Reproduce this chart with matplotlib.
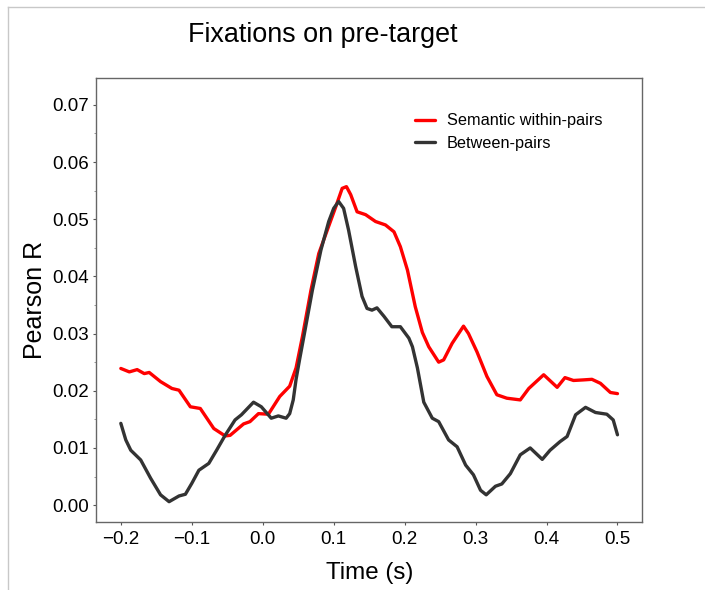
import matplotlib
matplotlib.use('Agg')
import matplotlib.pyplot as plt
from matplotlib.ticker import MultipleLocator
from matplotlib.lines import Line2D

plt.rcParams['font.family'] = ['Liberation Sans', 'DejaVu Sans']

# semantic within-pairs (red)
t_sem = [-0.200, -0.188, -0.177, -0.167, -0.160, -0.144, -0.128, -0.118, -0.102, -0.088,
         -0.069, -0.053, -0.046, -0.027, -0.018, -0.006, 0.008, 0.024, 0.038, 0.047,
         0.056, 0.068, 0.079, 0.091, 0.103, 0.112, 0.118, 0.124, 0.133, 0.145,
         0.159, 0.173, 0.185, 0.194, 0.204, 0.215, 0.225, 0.234, 0.248, 0.255,
         0.267, 0.283, 0.290, 0.302, 0.316, 0.330, 0.344, 0.363, 0.375, 0.396,
         0.415, 0.426, 0.438, 0.452, 0.464, 0.476, 0.490, 0.500]
r_sem = [0.0239, 0.0233, 0.0237, 0.0230, 0.0232, 0.0216, 0.0204, 0.0201, 0.0172, 0.0169,
         0.0134, 0.0121, 0.0122, 0.0142, 0.0146, 0.0160, 0.0159, 0.0190, 0.0208, 0.0240,
         0.0295, 0.0376, 0.0440, 0.0481, 0.0522, 0.0554, 0.0557, 0.0543, 0.0513, 0.0508,
         0.0496, 0.0490, 0.0478, 0.0452, 0.0411, 0.0347, 0.0302, 0.0277, 0.0250, 0.0254,
         0.0283, 0.0313, 0.0300, 0.0268, 0.0225, 0.0193, 0.0187, 0.0184, 0.0204, 0.0228,
         0.0206, 0.0223, 0.0218, 0.0219, 0.0220, 0.0213, 0.0197, 0.0195]

# between-pairs (dark grey)
t_btw = [-0.200, -0.193, -0.186, -0.172, -0.158, -0.144, -0.132, -0.118, -0.109, -0.100,
         -0.090, -0.076, -0.065, -0.053, -0.039, -0.030, -0.013, -0.002, 0.012, 0.022,
         0.033, 0.038, 0.043, 0.047, 0.052, 0.058, 0.070, 0.082, 0.093, 0.100,
         0.107, 0.114, 0.121, 0.131, 0.140, 0.147, 0.154, 0.161, 0.171, 0.182,
         0.194, 0.206, 0.211, 0.218, 0.227, 0.239, 0.248, 0.262, 0.274, 0.286,
         0.297, 0.307, 0.315, 0.328, 0.337, 0.349, 0.363, 0.377, 0.394, 0.405,
         0.419, 0.429, 0.441, 0.455, 0.469, 0.485, 0.494, 0.500]
r_btw = [0.0143, 0.0114, 0.0096, 0.0079, 0.0047, 0.0018, 0.0006, 0.0016, 0.0019, 0.0038,
         0.0061, 0.0073, 0.0096, 0.0122, 0.0149, 0.0158, 0.0180, 0.0172, 0.0152, 0.0156,
         0.0152, 0.0160, 0.0184, 0.0220, 0.0255, 0.0295, 0.0376, 0.0446, 0.0496, 0.0519,
         0.0531, 0.0519, 0.0481, 0.0417, 0.0365, 0.0344, 0.0341, 0.0345, 0.0330, 0.0312,
         0.0312, 0.0292, 0.0277, 0.0240, 0.0180, 0.0152, 0.0146, 0.0114, 0.0102, 0.0070,
         0.0053, 0.0026, 0.0018, 0.0033, 0.0037, 0.0055, 0.0088, 0.0100, 0.0080, 0.0096,
         0.0111, 0.0120, 0.0158, 0.0171, 0.0162, 0.0159, 0.0149, 0.0123]

fig = plt.figure(figsize=(7.05, 5.9), dpi=100)
ax = fig.add_axes([96/705, 1-521.7/590, (642.3-96)/705, (521.7-78)/590])

ax.plot(t_sem, r_sem, color='red', lw=2.4, solid_joinstyle='round',
        solid_capstyle='round', label='Semantic within-pairs')
ax.plot(t_btw, r_btw, color='#333333', lw=2.4, solid_joinstyle='round',
        solid_capstyle='round', label='Between-pairs')

ax.set_xlim(-0.235, 0.535)
ax.set_ylim(-0.0029, 0.0747)
ax.yaxis.set_minor_locator(MultipleLocator(0.005))
ax.set_xticks([-0.2, -0.1, 0.0, 0.1, 0.2, 0.3, 0.4, 0.5])
ax.set_xticklabels(['\u22120.2', '\u22120.1', '0.0', '0.1', '0.2', '0.3', '0.4', '0.5'])
ax.set_yticks([0, 0.01, 0.02, 0.03, 0.04, 0.05, 0.06, 0.07])
ax.set_yticklabels(['0.00', '0.01', '0.02', '0.03', '0.04', '0.05', '0.06', '0.07'])
ax.tick_params(axis='both', which='major', labelsize=13.5, length=2.5, width=0.8,
               color='#555555', labelcolor='black')
ax.tick_params(axis='x', pad=4)
ax.tick_params(axis='y', pad=2.5)
ax.tick_params(axis='y', which='minor', length=1.2, width=0.6, color='#888888')
for sp in ax.spines.values():
    sp.set_color('#666666')
    sp.set_linewidth(1.0)

leg = ax.legend(loc='upper left', bbox_to_anchor=(0.584, 0.92), frameon=False,
                fontsize=11.7, handlelength=1.25, handletextpad=0.7,
                labelspacing=0.45, borderpad=0, borderaxespad=0)

fig.text(322.5/705, 1-41.7/590, 'Fixations on pre-target', fontsize=19.4,
         ha='center', va='baseline')
fig.text(370/705, 1-579/590, 'Time (s)', fontsize=17.4, ha='center', va='baseline')
fig.text(35/705, 1-300/590, 'Pearson R', fontsize=18, rotation=90,
         ha='center', va='center')

# thin frame of the screenshot
fig.add_artist(Line2D([7.5/705, 1], [1-7/590, 1-7/590], color='#c8c8c8', lw=1))
fig.add_artist(Line2D([7.5/705, 7.5/705], [0, 1-7/590], color='#c8c8c8', lw=1))

fig.savefig('out.png', dpi=100)
